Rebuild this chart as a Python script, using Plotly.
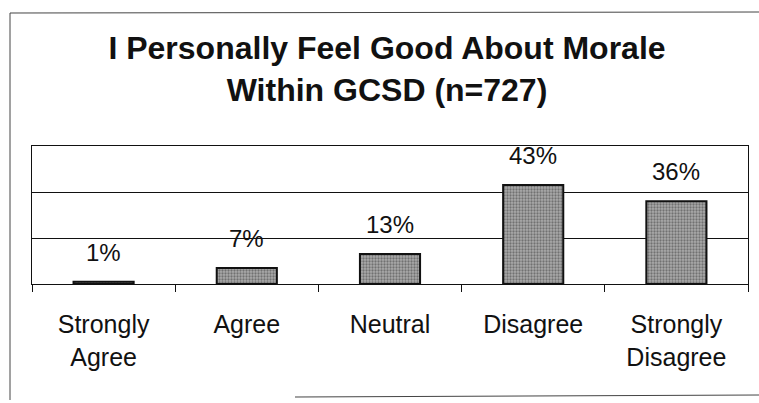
import plotly.graph_objects as go

# ---- data ----
categories = ["Strongly<br>Agree", "Agree", "Neutral", "Disagree", "Strongly<br>Disagree"]
values = [1, 7, 13, 43, 36]
value_labels = ["1%", "7%", "13%", "43%", "36%"]
title_lines = ["I Personally Feel Good About Morale", "Within GCSD (n=727)"]

# ---- layout geometry (pixels) ----
W, H = 759, 403
ML, MR, MT, MB = 32, 11, 146, 119
PW = W - ML - MR
PH = H - MT - MB

def px(x):
    return (x - ML) / PW

def py(y):
    return (H - MB - y) / PH

FONT = "Liberation Sans, Arial, Helvetica, sans-serif"

fig = go.Figure()
fig.add_trace(go.Bar(
    x=categories,
    y=values,
    marker=dict(
        color="#ababab",
        line=dict(color="#111111", width=2),
        pattern=dict(shape=".", fgcolor="#383838", size=3, solidity=0.45),
    ),
    width=0.42,
    hoverinfo="skip",
))

for c, v, t in zip(categories, values, value_labels):
    fig.add_annotation(
        x=c, y=v, text=t, showarrow=False,
        yanchor="bottom", yshift=14,
        font=dict(family=FONT, size=24, color="#111111"),
    )

# outer frame of the chart (scanned border)
frame = dict(type="line", xref="paper", yref="paper",
             line=dict(color="#444444", width=1))
fig.add_shape(**frame, x0=px(10), x1=px(759), y0=py(13), y1=py(12))
fig.add_shape(**frame, x0=px(10), x1=px(10), y0=py(13), y1=py(400))
fig.add_shape(**frame, x0=px(295), x1=px(759), y0=py(397), y1=py(395))

fig.update_layout(
    width=W, height=H,
    margin=dict(l=ML, r=MR, t=MT, b=MB, pad=0),
    paper_bgcolor="white",
    plot_bgcolor="white",
    showlegend=False,
    bargap=0.58,
    title=dict(
        text="<b>" + title_lines[0] + "<br>" + title_lines[1] + "</b>",
        font=dict(family=FONT, size=32, color="#111111"),
        x=px(387), xref="paper", xanchor="center",
        y=1 - 59 / H, yref="container", yanchor="top",
    ),
    xaxis=dict(
        type="category",
        showline=True, linecolor="#111111", linewidth=1, mirror=True,
        ticks="outside", ticklen=7, tickcolor="#111111", tickwidth=1,
        tickson="boundaries",
        tickfont=dict(family=FONT, size=25, color="#111111"),
        ticklabelstandoff=18,
        showgrid=False,
    ),
    yaxis=dict(
        range=[0, 60], dtick=20,
        showline=True, linecolor="#111111", linewidth=1, mirror=True,
        showgrid=True, gridcolor="#111111", gridwidth=1,
        showticklabels=False, ticks="",
        zeroline=False,
    ),
)

fig.write_html("out.html")
